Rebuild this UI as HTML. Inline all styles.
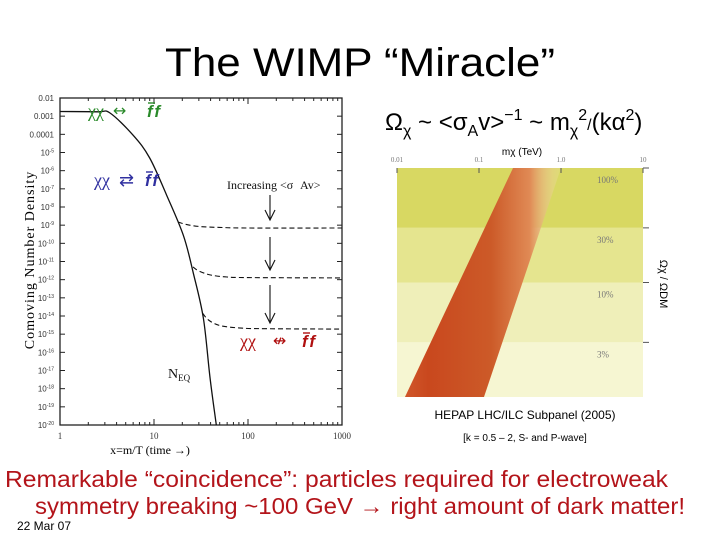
<!DOCTYPE html>
<html><head><meta charset="utf-8"><style>
body{margin:0;background:#fff}
svg{display:block;font-family:"Liberation Sans",sans-serif}
</style></head><body>
<svg id="s" width="720" height="540" viewBox="0 0 720 540">
<defs>
<linearGradient id="bandg" x1="0" y1="0" x2="1" y2="0">
<stop offset="0" stop-color="#d0562a"/><stop offset="0.15" stop-color="#c9481e"/><stop offset="0.55" stop-color="#cc5a28"/><stop offset="0.8" stop-color="#e08a55"/><stop offset="1" stop-color="#f4e6b8" stop-opacity="0.2"/>
</linearGradient>
</defs>
<text x="360" y="76" font-size="40" text-anchor="middle" textLength="390" lengthAdjust="spacingAndGlyphs">The WIMP “Miracle”</text>
<text x="385" y="130" font-size="24">Ω<tspan font-size="16" dy="6">χ</tspan><tspan dy="-6"> ~ &lt;σ</tspan><tspan font-size="16" dy="6">A</tspan><tspan dy="-6">v&gt;</tspan><tspan font-size="16" dy="-10">−1</tspan><tspan dy="10"> ~ m</tspan><tspan font-size="16" dy="6">χ</tspan><tspan font-size="16" dy="-16">2</tspan><tspan font-size="16" dy="10">/</tspan><tspan>(kα</tspan><tspan font-size="16" dy="-10">2</tspan><tspan dy="10">)</tspan></text>

<g id="left"></g>
<g id="right"></g>

<text x="5" y="487" font-size="23" fill="#b3141a" textLength="663" lengthAdjust="spacingAndGlyphs">Remarkable “coincidence”:  particles required for electroweak</text>
<text x="35" y="514" font-size="23" fill="#b3141a" textLength="650" lengthAdjust="spacingAndGlyphs">symmetry breaking ~100 GeV → right amount of dark matter!</text>
<text x="17" y="530" font-size="12">22 Mar 07</text>
</svg>
<script>
// ---- left chart data ----
const eqX = [1, 2.5, 3.4, 6, 9, 13.6, 20.5, 26, 33.5, 39.5, 46];
const eqY = [1.8e-3, 1.75e-3, 1.5e-3, 9e-5, 5e-6, 4.5e-8, 2.8e-10, 2.7e-12, 7.5e-15, 3.7e-18, 1e-20];
const foAX = [18, 22, 30, 50, 100, 1000];
const foAY = [1.5e-9, 1.1e-9, 8.5e-10, 7.5e-10, 7e-10, 7e-10];
const foBX = [26, 30, 40, 60, 100, 1000];
const foBY = [5e-12, 3e-12, 1.8e-12, 1.4e-12, 1.3e-12, 1.25e-12];
const foCX = [33, 38, 50, 80, 150, 1000];
const foCY = [1.4e-14, 6e-15, 3e-15, 2.2e-15, 2e-15, 1.9e-15];
const xTicks = [1, 10, 100, 1000];
const xTickLabels = ["1", "10", "100", "1000"];
const yTickExp = [-2,-3,-4,-5,-6,-7,-8,-9,-10,-11,-12,-13,-14,-15,-16,-17,-18,-19,-20];
// ---- right panel data ----
const massTicks = [0.01, 0.1, 1, 10];
const massTickLabels = ["0.01", "0.1", "1.0", "10"];
const bandEdges = [100, 30, 10, 3, 1];
const bandLabels = ["100%", "30%", "10%", "3%"];
const bandColors = ["#d8d862", "#e5e58f", "#efefb9", "#f6f6d2"];
const stripBottom = [0.0125, 0.115];
const stripTop = [0.26, 1.0];

const NS = "http://www.w3.org/2000/svg";
function mk(tag, attrs, parent, txt){const e=document.createElementNS(NS,tag);for(const k in attrs)e.setAttribute(k,attrs[k]);if(txt!==undefined)e.textContent=txt;parent.appendChild(e);return e;}
const L = document.getElementById('left');
const X0=60,X1=342,Y0=98,Y1=425;
const xs = v => X0 + Math.log10(v)/3*(X1-X0);
const ys = v => Y0 + (-2 - Math.log10(v))/18*(Y1-Y0);
const frame = mk('rect',{x:X0,y:Y0,width:X1-X0,height:Y1-Y0,fill:'none',stroke:'#222','stroke-width':1.3},L);


yTickExp.forEach(e=>{
  const y=ys(Math.pow(10,e));
  const t=mk('line',{x1:X0,x2:X0+5,y1:y,y2:y,stroke:'#222'},L);
  
  
  mk('line',{x1:X1,x2:X1-5,y1:y,y2:y,stroke:'#222'},L);
  let lab = e===-2?"0.01":e===-3?"0.001":e===-4?"0.0001":null;
  const tx=mk('text',{x:X0-6,y:y+3,'font-size':8,'text-anchor':'end',fill:'#333'},L);
  
  
  if(lab) tx.textContent=lab; else {tx.textContent="10"; mk('tspan',{'font-size':5,dy:-3},tx,String(e));}
});
xTicks.forEach((v,i)=>{
  const x=xs(v);
  mk('line',{x1:x,x2:x,y1:Y1,y2:Y1-6,stroke:'#222'},L);
  mk('line',{x1:x,x2:x,y1:Y0,y2:Y0+6,stroke:'#222'},L);
  for(let k=2;k<10&&i<3;k++){const xm=xs(v*k);mk('line',{x1:xm,x2:xm,y1:Y1,y2:Y1-3,stroke:'#222'},L);mk('line',{x1:xm,x2:xm,y1:Y0,y2:Y0+3,stroke:'#222'},L);}
  const t=mk('text',{x:x,y:439,'font-size':9,'text-anchor':'middle',fill:'#333','font-family':'Liberation Serif'},L,xTickLabels[i]);
  
  
});
const xt=mk('text',{x:150,y:454,'font-size':12,'text-anchor':'middle','font-family':'Liberation Serif'},L,"x=m/T (time →)");


const yt=mk('text',{x:0,y:0,'font-size':14,'text-anchor':'middle','font-family':'Liberation Serif',transform:'translate(34,260) rotate(-90)','letter-spacing':1},L,"Comoving Number Density");


function path(xa,ya){
  const p=xa.map((v,i)=>[xs(v),ys(ya[i])]);
  let d='M'+p[0][0].toFixed(1)+','+p[0][1].toFixed(1);
  for(let i=0;i<p.length-1;i++){
    const p0=p[Math.max(0,i-1)],p1=p[i],p2=p[i+1],p3=p[Math.min(p.length-1,i+2)];
    const c1=[p1[0]+(p2[0]-p0[0])/6,p1[1]+(p2[1]-p0[1])/6];
    const c2=[p2[0]-(p3[0]-p1[0])/6,p2[1]-(p3[1]-p1[1])/6];
    d+=` C${c1[0].toFixed(1)},${c1[1].toFixed(1)} ${c2[0].toFixed(1)},${c2[1].toFixed(1)} ${p2[0].toFixed(1)},${p2[1].toFixed(1)}`;
  }
  return d;
}
const eq=mk('path',{d:path(eqX,eqY),fill:'none',stroke:'#111','stroke-width':1.3},L);


[[foAX,foAY],[foBX,foBY],[foCX,foCY]].forEach(([a,b])=>{
  const p=mk('path',{d:path(a,b),fill:'none',stroke:'#111','stroke-width':1.1,'stroke-dasharray':'5,3'},L);
  
  
});
[[195,220],[237,270],[285,323]].forEach(([a,b])=>{
  const g=mk('g',{stroke:'#111','stroke-width':1.1,fill:'none'},L);
  
  
  mk('line',{x1:270,x2:270,y1:a,y2:b},g);
  mk('path',{d:`M265,${b-10} L270,${b} L275,${b-10}`},g);
});
function lbl(x,y,txt,color,name,size,fam){const t=mk('text',{x:x,y:y,'font-size':size||14,fill:color,'font-family':fam||'Liberation Serif'},L,txt);return t;}
function ff(x,y,color,name){
  const t=lbl(x,y,"ff",color,name,17,'Liberation Sans');
  t.setAttribute('font-weight','bold');t.setAttribute('font-style','italic');t.setAttribute('letter-spacing','2');
  mk('line',{x1:x+1,x2:x+8,y1:y-14,y2:y-14,stroke:color,'stroke-width':1.4},L);
}
lbl(88,117,"χχ",'#2a8a2a','equilibrium-label',18);
lbl(113,116,"↔",'#2a8a2a','equilibrium-arrow',16,'DejaVu Sans');
ff(147,117,'#2a8a2a','equilibrium-ff');
lbl(94,186,"χχ",'#3030a0','transition-label',18);
lbl(119,186,"⇄",'#3030a0','transition-arrow',18,'DejaVu Sans');
ff(145,186,'#3030a0','transition-ff');
lbl(227,189,"Increasing <σ",'#111','increasing-label',12);
lbl(300,189,"Av>",'#111','increasing-label-end',12);
lbl(240,347,"χχ",'#b01010','freeze-label',18);
lbl(273,346,"↮",'#b01010','freeze-arrow',16,'DejaVu Sans');
ff(302,347,'#b01010','freeze-ff');
const ne=lbl(168,378,"N",'#111','neq-label',14);
mk('tspan',{'font-size':9,dy:3},ne,"EQ");

// right panel
const R=document.getElementById('right');
const RX0=397,RX1=643,RY0=168,RY1=397;
const mx = v => RX0 + (Math.log10(v)+2)/3*(RX1-RX0);
const oy = v => RY0 + (2 - Math.log10(v))/2*(RY1-RY0);
bandLabels.forEach((l,i)=>{
  const y0=oy(bandEdges[i]), y1=oy(bandEdges[i+1]);
  const r=mk('rect',{x:RX0,y:y0,width:RX1-RX0,height:y1-y0,fill:bandColors[i]},R);
  
  
  const t=mk('text',{x:597,y:y0+15,'font-size':9,fill:'#777','font-family':'Liberation Serif'},R,l);
  
  
  mk('line',{x1:RX1,x2:RX1+6,y1:y0,y2:y0,stroke:'#555'},R);
});
const strip=mk('path',{d:`M${mx(stripBottom[0])},${RY1} L${mx(stripBottom[1])},${RY1} L${mx(stripTop[1])},${RY0} L${mx(stripTop[0])},${RY0} Z`,fill:'url(#bandg)'},R);


massTicks.forEach((v,i)=>{
  const x=mx(v);
  mk('line',{x1:x,x2:x,y1:RY0,y2:RY0+5,stroke:'#555'},R);
  const t=mk('text',{x:x,y:162,'font-size':7,'text-anchor':'middle',fill:'#777','font-family':'Liberation Serif'},R,massTickLabels[i]);
  
  
});
const mt=mk('text',{x:522,y:155,'font-size':10,'text-anchor':'middle'},R,"mχ (TeV)");


const ot=mk('text',{x:0,y:0,'font-size':11,'text-anchor':'middle',transform:'translate(660,284) rotate(90)'},R,"Ωχ / ΩDM");


const c1=mk('text',{x:525,y:419,'font-size':12,'text-anchor':'middle'},R,"HEPAP LHC/ILC Subpanel (2005)");


const c2=mk('text',{x:525,y:441,'font-size':10,'text-anchor':'middle'},R,"[k = 0.5 – 2, S- and P-wave]");


</script>
</body></html>
